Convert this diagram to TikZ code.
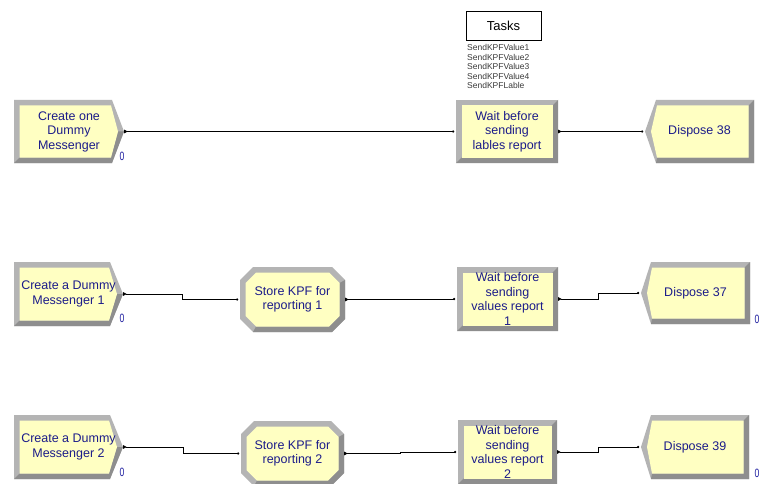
\documentclass[tikz,border=0pt]{standalone}
\usepackage{fontspec}
\setmainfont{Liberation Sans}
\usetikzlibrary{arrows.meta}

\definecolor{modfill}{HTML}{FFFFC2}
\definecolor{bvlight}{HTML}{B4B4B4}
\definecolor{bvdark}{HTML}{8E8E8E}
\definecolor{modink}{HTML}{1C1C8A}
\definecolor{cntink}{HTML}{1E1EA0}
\definecolor{listink}{HTML}{3A3A3A}

\tikzset{
  modtext/.style={inner sep=0pt, align=center, text=modink,
    font=\fontsize{12.5}{14.5}\selectfont},
  counter/.style={text=cntink, inner sep=0pt, font=\fontsize{12}{12}\selectfont},
  link/.style={draw=black, line width=0.8pt,
    {Triangle[reversed,length=3.5pt,width=3.5pt]}-{Circle[length=2.2pt]},
    shorten >=1.5pt},
}

% bevel width
\def\bw{5.5}

% Create module: name, x1, y1, xc, xp, y2, text
\newcommand\createmod[7]{%
  \fill[bvlight] (#2,#3) -- (#4,#3) -- (#5,{(#3+#6)/2}) -- (#4,#6) -- (#2,#6) -- cycle;
  \fill[bvdark] (#5,{(#3+#6)/2}) -- (#4,#6) -- (#2,#6) -- ({#2+\bw},{#6-\bw})
     -- ({#4-1},{#6-\bw}) -- ({#5-6},{(#3+#6)/2}) -- cycle;
  \fill[modfill] ({#2+\bw},{#3+\bw}) -- ({#4-1},{#3+\bw}) -- ({#5-6},{(#3+#6)/2})
     -- ({#4-1},{#6-\bw}) -- ({#2+\bw},{#6-\bw}) -- cycle;
  \node[modtext, minimum width={(#5-#2)*1pt}, minimum height={(#6-#3)*1pt}]
     (#1) at ({(#2+#5)/2},{(#3+#6)/2}) {#7};
}

% Dispose module: name, xp, xc, x2, y1, y2, text
\newcommand\disposemod[7]{%
  \fill[bvlight] (#2,{(#5+#6)/2}) -- (#3,#5) -- (#4,#5) -- (#4,#6) -- (#3,#6) -- cycle;
  \fill[bvdark] (#4,#5) -- (#4,#6) -- (#3,#6) -- ({#3+1},{#6-\bw})
     -- ({#4-\bw},{#6-\bw}) -- ({#4-\bw},{#5+\bw}) -- cycle;
  \fill[modfill] ({#2+6},{(#5+#6)/2}) -- ({#3+1},{#5+\bw}) -- ({#4-\bw},{#5+\bw})
     -- ({#4-\bw},{#6-\bw}) -- ({#3+1},{#6-\bw}) -- cycle;
  \node[modtext, minimum width={(#4-#2)*1pt}, minimum height={(#6-#5)*1pt}]
     (#1) at ({(#2+#4)/2},{(#5+#6)/2}) {#7};
}

% Rectangular (Hold) module: name, x1, y1, x2, y2, text
\newcommand\holdmod[6]{%
  \fill[bvlight] (#2,#3) rectangle (#4,#5);
  \fill[bvdark] (#4,#3) -- (#4,#5) -- (#2,#5) -- ({#2+\bw},{#5-\bw})
     -- ({#4-\bw},{#5-\bw}) -- ({#4-\bw},{#3+\bw}) -- cycle;
  \fill[modfill] ({#2+\bw},{#3+\bw}) rectangle ({#4-\bw},{#5-\bw});
  \node[modtext, minimum width={(#4-#2)*1pt}, minimum height={(#5-#3)*1pt}]
     (#1) at ({(#2+#4)/2},{(#3+#5)/2}) {#6};
}

% Octagonal (Assign) module: name, x1, y1, x2, y2, text
\newcommand\assignmod[6]{%
  \fill[bvlight] ({#2+13},#3) -- ({#4-13},#3) -- (#4,{#3+13}) -- (#4,{#5-13})
     -- ({#4-13},#5) -- ({#2+13},#5) -- (#2,{#5-13}) -- (#2,{#3+13}) -- cycle;
  \fill[bvdark] (#4,{#3+13}) -- (#4,{#5-13}) -- ({#4-13},#5) -- ({#2+13},#5)
     -- ({#2+16},{#5-\bw}) -- ({#4-16},{#5-\bw}) -- ({#4-\bw},{#5-16})
     -- ({#4-\bw},{#3+16}) -- cycle;
  \fill[modfill] ({#2+16},{#3+\bw}) -- ({#4-16},{#3+\bw}) -- ({#4-\bw},{#3+16})
     -- ({#4-\bw},{#5-16}) -- ({#4-16},{#5-\bw}) -- ({#2+16},{#5-\bw})
     -- ({#2+\bw},{#5-16}) -- ({#2+\bw},{#3+16}) -- cycle;
  \node[modtext, minimum width={(#4-#2)*1pt}, minimum height={(#5-#3)*1pt}]
     (#1) at ({(#2+#4)/2},{(#3+#5)/2}) {#6};
}

\newcommand\cnt{\scalebox{0.72}[1]{0}}

\begin{document}
\begin{tikzpicture}[x=1pt, y=-1pt]
  \useasboundingbox[fill=white] (0,0) rectangle (760,484);

  % Tasks label with its list
  \node[draw, line width=0.6pt, minimum width=75pt, minimum height=29pt,
        inner sep=0pt, font=\fontsize{13}{13}\selectfont] (tasks) at (503.5,25.5) {Tasks};
  \node[anchor=north west, inner sep=0pt, align=left, text=listink,
        font=\fontsize{8.5}{9.5}\selectfont] (tasklist) at (467,44.5)
        {SendKPFValue1\\SendKPFValue2\\SendKPFValue3\\SendKPFValue4\\SendKPFLable};

  % first line: labels report
  \createmod{c0}{14}{100}{112}{124}{163}{Create one\\Dummy\\Messenger}
  \holdmod{w0}{456}{100}{558}{163}{Wait before\\sending\\lables report}
  \disposemod{d38}{645}{656}{754}{100}{163}{Dispose 38}
  \node[counter] (n0) at (122,156) {\cnt};

  % second line: values report 1
  \createmod{c1}{14}{262}{110}{123}{326}{Create a Dummy\\Messenger 1}
  \assignmod{s1}{240}{267}{345}{332}{Store KPF for\\reporting 1}
  \holdmod{w1}{457}{267}{558}{331}{Wait before\\sending\\values report\\1}
  \disposemod{d37}{641}{651}{750}{262}{324}{Dispose 37}
  \node[counter] (n1) at (122,318) {\cnt};
  \node[counter] (n37) at (757,319) {\cnt};

  % third line: values report 2
  \createmod{c2}{14}{415}{110}{123}{479}{Create a Dummy\\Messenger 2}
  \assignmod{s2}{241}{421}{344}{486}{Store KPF for\\reporting 2}
  \holdmod{w2}{458}{420}{557}{484}{Wait before\\sending\\values report\\2}
  \disposemod{d39}{641}{651}{749}{415}{479}{Dispose 39}
  \node[counter] (n2) at (122,472) {\cnt};
  \node[counter] (n39) at (757,473) {\cnt};

  % connections
  \draw[link] (c0.east) -- (w0.west);
  \draw[link] (w0.east) -- (d38.west);

  \draw[link] (c1.east) -- ++(59,0) |- (s1.west);
  \draw[link] (s1.east) -- ++(55,0) |- (w1.west);
  \draw[link] (w1.east) -- ++(40,0) |- (d37.west);

  \draw[link] (c2.east) -- ++(60,0) |- (s2.west);
  \draw[link] (s2.east) -- ++(56,0) |- (w2.west);
  \draw[link] (w2.east) -- ++(41,0) |- (d39.west);
\end{tikzpicture}
\end{document}
